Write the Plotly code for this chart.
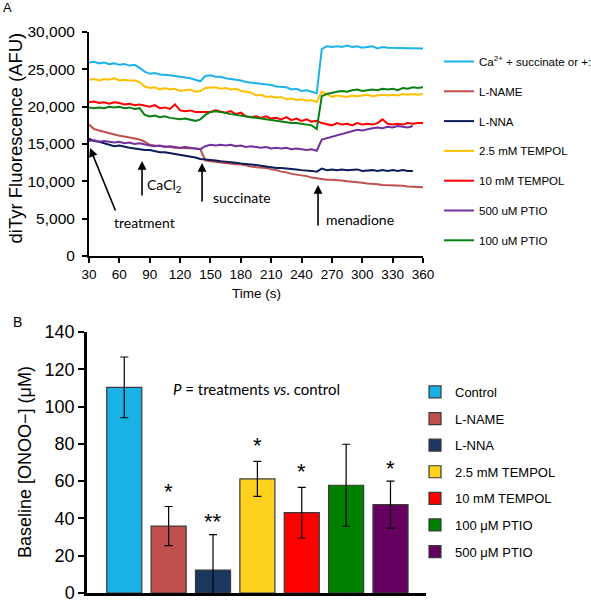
import plotly.graph_objects as go

# ---------------- Panel A data ----------------
time_s = [30, 35, 40, 45, 50, 55, 60, 65, 70, 75, 80, 85, 90, 95, 100, 105, 110, 115, 120, 125,
          130, 135, 140, 145, 150, 155, 160, 165, 170, 175, 180, 185, 190, 195, 200, 205, 210,
          215, 220, 225, 230, 235, 240, 245, 250, 255, 260, 265, 270, 275, 280, 285, 290, 295,
          300, 305, 310, 315, 320, 325, 330, 335, 340, 345, 350, 355, 360]

ca_succinate = [25900, 26000, 25800, 25900, 25700, 25800, 25600, 25700, 25500, 25600, 25200, 24700,
                24400, 24500, 24300, 24300, 24200, 24100, 24000, 24000, 23800, 23600, 23400, 24100,
                24200, 24000, 24000, 23800, 23700, 23700, 23500, 23300, 23200, 23100, 23100, 23000,
                22900, 22700, 22600, 22600, 22300, 22400, 22100, 22200, 22000, 21800, 27700, 28100,
                28000, 28100, 28000, 28200, 28000, 28100, 27900, 28000, 28100, 27800, 28000, 27900,
                27900, 27800, 27900, 27900, 27800, 27900, 27800]

l_name = [17600, 17000, 16800, 16600, 16400, 16300, 16100, 16000, 15900, 15800, 15600, 15300, 14900,
          14800, 14700, 14600, 14600, 14500, 14500, 14400, 14500, 14400, 14300, 12800, 12700, 12600,
          12600, 12500, 12400, 12300, 12300, 12100, 12000, 11900, 11900, 11800, 11600, 11500, 11300,
          11200, 11000, 10900, 10800, 10700, 10500, 10400, 10300, 10200, 10200, 10100, 10100, 10000,
          9900, 9900, 9800, 9700, 9700, 9600, 9500, 9500, 9400, 9400, 9400, 9300, 9300, 9300, 9200]

l_nna = [15700, 15400, 15300, 15100, 14900, 14700, 14800, 14600, 14500, 14400, 14300, 14200, 14200,
         14000, 13900, 13900, 13800, 13600, 13600, 13500, 13400, 13200, 13000, 12900, 12800, 12800,
         12700, 12600, 12600, 12500, 12400, 12300, 12200, 12200, 12100, 12000, 11900, 11800, 11800,
         11700, 11600, 11600, 11500, 11500, 11400, 11300, 11700, 11500, 11600, 11500, 11600, 11500,
         11500, 11600, 11400, 11500, 11500, 11400, 11500, 11400, 11500, 11400, 11500, 11400, 11400,
         None, None]

tempol_2_5 = [23600, 23700, 23500, 23700, 23600, 23800, 23500, 23600, 23500, 23500, 23300, 22700,
              22500, 22600, 22300, 22500, 22300, 22400, 22100, 22200, 22300, 22000, 22100, 22500,
              22500, 22600, 22400, 22500, 22300, 22400, 22100, 22000, 21900, 21500, 21600, 21300,
              21400, 21200, 21300, 21000, 21100, 20900, 21000, 20800, 20900, 20600, 22000, 21700,
              21300, 21500, 21400, 21300, 21500, 21400, 21500, 21600, 21400, 21500, 21600, 21500,
              21600, 21500, 21700, 21600, 21700, 21600, 21700]

tempol_10 = [20600, 20700, 20500, 20600, 20400, 20600, 20500, 20300, 20400, 20200, 20300, 20100,
             20000, 20200, 19800, 19900, 19700, 20300, 19500, 19400, 19500, 19300, 19300, 19200,
             19300, 19500, 19400, 19200, 19400, 19000, 19200, 18700, 18600, 18700, 18500, 18700,
             18400, 18500, 18300, 18600, 18200, 18400, 18100, 18300, 18000, 18100, 17800, 17600,
             17500, 17800, 17600, 17700, 17500, 17800, 17600, 17700, 17600, 17800, 18300, 17700,
             17600, 17700, 17600, 17800, 17700, 17800, 17800]

ptio_500 = [15400, 15500, 15300, 15400, 15300, 15200, 15300, 15100, 15200, 15000, 15100, 14900,
            14800, 14700, 14800, 14600, 14700, 14600, 14500, 14600, 14500, 14400, 14300, 14700,
            14900, 14800, 14900, 14800, 14900, 14700, 14800, 14600, 14700, 14600, 14500, 14600,
            14400, 14500, 14400, 14500, 14300, 14400, 14300, 14200, 14300, 14100, 15600, 15800,
            16000, 16200, 16400, 16600, 16700, 16900, 16800, 17000, 17100, 17200, 17100, 17300,
            17200, 17400, 17300, 17200, 17400, None, None]

ptio_100 = [19900, 19800, 19900, 19800, 20000, 19900, 20000, 19800, 19900, 19700, 19800, 18900,
            18700, 18800, 18600, 18700, 18500, 18400, 18300, 18400, 18200, 18100, 18300, 18900,
            19300, 19400, 19300, 19100, 19000, 18900, 18800, 18700, 18600, 18500, 18400, 18300,
            18200, 18100, 18000, 17900, 17800, 17800, 17700, 17600, 17500, 17000, 21400, 21700,
            21900, 22000, 22100, 22000, 22200, 22300, 22100, 22200, 22300, 22200, 22400, 22300,
            22400, 22200, 22500, 22400, 22600, 22500, 22600]

line_names = ["Ca<sup>2+</sup> + succinate or +:", "L-NAME", "L-NNA", "2.5 mM TEMPOL",
              "10 mM TEMPOL", "500 uM PTIO", "100 uM PTIO"]
line_series = [ca_succinate, l_name, l_nna, tempol_2_5, tempol_10, ptio_500, ptio_100]
line_colors = ["#1CB3EC", "#C0504D", "#0B1C58", "#FFC000", "#FF0000", "#7030A0", "#0A8012"]

y_ticks_a = [0, 5000, 10000, 15000, 20000, 25000, 30000]
x_ticks_a = [30, 60, 90, 120, 150, 180, 210, 240, 270, 300, 330, 360]

# event markers (arrow tip and tail in data units)
event_labels = ["treatment", "CaCl<sub>2</sub>", "succinate", "menadione"]
event_tip_t = [31, 82.4, 141.7, 256.3]
event_tip_v = [14460, 12720, 12450, 9510]
event_tail_t = [56.7, 82.4, 141.7, 256.3]
event_tail_v = [5890, 7900, 7100, 3880]
event_label_t = [52.7, 85.3, 150.6, 262.2]
event_label_v = [4550, 9500, 7770, 4950]

# ---------------- Panel B data ----------------
bar_categories = ["Control", "L-NAME", "L-NNA", "2.5 mM TEMPOL", "10 mM TEMPOL",
                  "100 μM PTIO", "500 μM PTIO"]
bar_values = [110.3, 35.9, 12.3, 61.2, 43.1, 57.8, 47.4]
bar_errors = [16.3, 10.5, 19.0, 9.4, 13.6, 22.0, 12.6]
bar_colors = ["#1AB1E6", "#C0504D", "#1B365F", "#FFD21F", "#FF0000", "#008000", "#650060"]
star_labels = ["", "*", "**", "*", "*", "", "*"]
star_y = [None, 57, 41.3, 82, 67.8, None, 69.6]
y_ticks_b = [0, 20, 40, 60, 80, 100, 120, 140]

AX_FONT = "Liberation Sans, Arial, sans-serif"
TXT_FONT = "Lato, Open Sans, sans-serif"

fig = go.Figure()

for i, (name, ys, col) in enumerate(zip(line_names, line_series, line_colors)):
    fig.add_trace(go.Scatter(
        x=time_s, y=ys, mode="lines", name=name,
        line=dict(color=col, width=2),
        xaxis="x", yaxis="y", legend="legend", legendgroup=f"a{i}"))

for i, (cat, val, err, col) in enumerate(zip(bar_categories, bar_values, bar_errors, bar_colors)):
    fig.add_trace(go.Bar(
        x=[cat], y=[val], name=cat, width=0.79,
        marker=dict(color=col, line=dict(color="#3A3A3A", width=1.2)),
        error_y=dict(type="data", array=[err], color="black", thickness=1.2, width=4),
        xaxis="x2", yaxis="y2", legend="legend2", legendgroup=f"b{i}"))

annotations = []
for tt, tv, at, av in zip(event_tip_t, event_tip_v, event_tail_t, event_tail_v):
    annotations.append(dict(x=tt, y=tv, ax=at, ay=av, xref="x", yref="y", axref="x", ayref="y",
                            text="", showarrow=True, arrowhead=2, arrowsize=1.1, arrowwidth=1.6,
                            arrowcolor="black"))
for lab, lx, ly in zip(event_labels, event_label_t, event_label_v):
    annotations.append(dict(x=lx, y=ly, xref="x", yref="y", text=lab, showarrow=False,
                            xanchor="left", yanchor="middle",
                            font=dict(family=TXT_FONT, size=14, color="black")))

for cat, s, sy in zip(bar_categories, star_labels, star_y):
    if s:
        annotations.append(dict(x=cat, y=sy, xref="x2", yref="y2", text=s, showarrow=False,
                                xanchor="center", yanchor="middle", yshift=-5,
                                font=dict(family=AX_FONT, size=22, color="black")))

annotations += [
    dict(x=171 / 591, y=109.4, xref="paper", yref="y2",
         text="<i>P</i> = treatments <i>vs</i>. control",
         showarrow=False, xanchor="left", yanchor="middle",
         font=dict(family=TXT_FONT, size=15, color="black")),
    dict(x=15 / 591, y=1 - 138.5 / 600, xref="paper", yref="paper", text="diTyr Fluorescence (AFU)",
         textangle=-90, showarrow=False, xanchor="center", yanchor="middle",
         font=dict(family=AX_FONT, size=18.5, color="black")),
    dict(x=256 / 591, y=1 - 293 / 600, xref="paper", yref="paper", text="Time (s)",
         showarrow=False, xanchor="center", yanchor="middle",
         font=dict(family=AX_FONT, size=13.5, color="black")),
    dict(x=25 / 591, y=1 - 462 / 600, xref="paper", yref="paper", text="Baseline [ONOO−] (μM)",
         textangle=-90, showarrow=False, xanchor="center", yanchor="middle",
         font=dict(family=AX_FONT, size=18, color="black")),
    dict(x=7.5 / 591, y=1 - 7.5 / 600, xref="paper", yref="paper", text="A",
         showarrow=False, xanchor="center", yanchor="middle",
         font=dict(family=AX_FONT, size=13, color="black")),
    dict(x=17 / 591, y=1 - 322 / 600, xref="paper", yref="paper", text="B",
         showarrow=False, xanchor="center", yanchor="middle",
         font=dict(family=AX_FONT, size=14, color="black")),
]

fig.update_layout(
    template="none",
    width=591, height=600,
    margin=dict(l=0, r=0, t=0, b=0, autoexpand=False),
    paper_bgcolor="white", plot_bgcolor="white",
    barmode="overlay",
    font=dict(family=AX_FONT, color="black"),
    xaxis=dict(domain=[89 / 591, 423 / 591], anchor="y", range=[30, 360], automargin=False,
               tickvals=x_ticks_a, ticks="outside", ticklen=5, tickwidth=1.5, tickcolor="black",
               showline=True, linecolor="black", linewidth=2, showgrid=False, zeroline=False,
               tickfont=dict(size=13.5, family=AX_FONT), ticklabeloverflow="allow"),
    yaxis=dict(domain=[1 - 256 / 600, 1 - 32 / 600], anchor="x", range=[0, 30000], automargin=False,
               tickvals=y_ticks_a, tickformat=",", ticks="outside", ticklen=5, tickwidth=1.5,
               tickcolor="black", showline=True, linecolor="black", linewidth=2,
               showgrid=False, zeroline=False, tickfont=dict(size=15.5, family=AX_FONT),
               ticklabelstandoff=4, ticklabeloverflow="allow"),
    xaxis2=dict(domain=[87 / 591, 426 / 591], anchor="y2", range=[-0.84, 6.8], automargin=False,
                type="category", categoryorder="array", categoryarray=bar_categories,
                showticklabels=False, ticks="", showline=True, linecolor="black", linewidth=2.5,
                showgrid=False, zeroline=False),
    yaxis2=dict(domain=[1 - 593 / 600, 1 - 332 / 600], anchor="x2", range=[0, 140], automargin=False,
                tickvals=y_ticks_b, ticks="outside", ticklen=6, tickwidth=1.5, tickcolor="black",
                showline=True, linecolor="black", linewidth=2.5, showgrid=False, zeroline=False,
                tickfont=dict(size=18, family=AX_FONT), ticklabeloverflow="allow"),
    legend=dict(x=439 / 591, y=1 - 47 / 600, xanchor="left", yanchor="top",
                font=dict(size=11.5, family=AX_FONT), tracegroupgap=10.8,
                bgcolor="rgba(0,0,0,0)", itemwidth=30),
    legend2=dict(x=415 / 591, y=1 - 377 / 600, xanchor="left", yanchor="top",
                 font=dict(size=13, family=AX_FONT), tracegroupgap=6.7,
                 bgcolor="rgba(0,0,0,0)", itemwidth=30),
    annotations=annotations,
)

fig.write_html("out.html", config={"displayModeBar": False},
               post_script="document.body.style.margin='0px'; document.body.style.overflow='hidden';")
